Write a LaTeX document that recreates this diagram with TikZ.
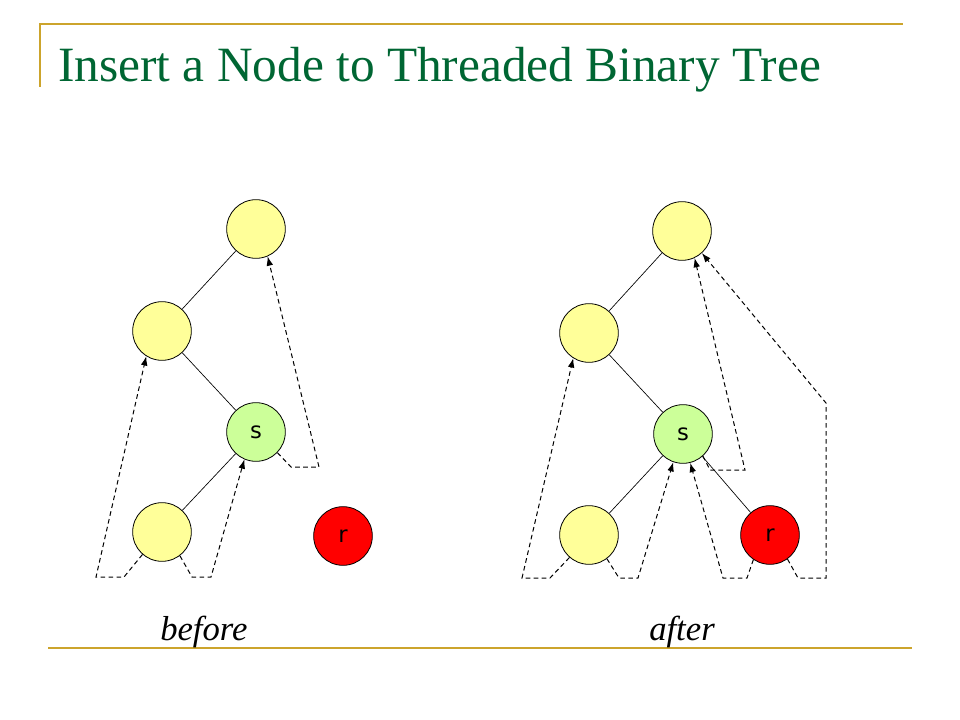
\documentclass[tikz,border=0pt]{standalone}
\usepackage{fontspec}
\setmainfont{Liberation Serif}
\newfontfamily\labelfont{DejaVu Sans}
\usetikzlibrary{arrows.meta}

\definecolor{rulegold}{RGB}{204,164,44}
\definecolor{titlegreen}{RGB}{0,102,51}
\definecolor{nodeyellow}{RGB}{255,255,153}
\definecolor{nodegreen}{RGB}{204,255,153}

\begin{document}
\begin{tikzpicture}[
    x=0.75pt, y=-0.75pt, % one unit = one pixel
    > = {Latex[length=7pt,width=5pt]}, % arrow head style
    treenode/.style={circle, draw, line width=0.6pt, minimum size=44pt, inner sep=0pt, fill=nodeyellow, font=\labelfont\fontsize{17}{17}\selectfont},
    snode/.style={treenode, fill=nodegreen},
    rnode/.style={treenode, fill=red},
    branch/.style={line width=0.5pt},
    thread/.style={dashed, dash pattern=on 3.5pt off 2.5pt, line width=0.75pt, ->},
]
\useasboundingbox (0,0) rectangle (960,720);

% slide frame
\draw[rulegold, line width=1.5pt] (40,87) -- (40,24) -- (903,24);
\draw[rulegold, line width=1.5pt] (48,648) -- (912,648);
\node[anchor=base west, inner sep=0pt, text=titlegreen, font=\fontsize{37}{37}\selectfont] (title) at (58,82) {Insert a Node to Threaded Binary Tree};

% before
\node[treenode] (L1) at (256,229) {};
\node[treenode] (La) at (162,331) {};
\node[snode]    (Ls) at (256,432) {s};
\node[treenode] (Lb) at (162,532) {};
\node[rnode]    (Lr) at (343,536) {r};
\draw[branch] (L1) -- (La);
\draw[branch] (La) -- (Ls);
\draw[branch] (Ls) -- (Lb);
\draw[thread] (Lb.229) -- (124,577) -- (96,577) -- (La.238);
\draw[thread] (Lb.307) -- (192,577) -- (211,577) -- (Ls.247);
\draw[thread] (Ls.316) -- (291,467) -- (319,467) -- (L1.293);

% after
\node[treenode] (R1) at (682,231) {};
\node[treenode] (Ra) at (589,333) {};
\node[snode]    (Rs) at (683,434) {s};
\node[treenode] (Rb) at (589,535) {};
\node[rnode]    (Rr) at (770,535) {r};
\draw[branch] (R1) -- (Ra);
\draw[branch] (Ra) -- (Rs);
\draw[branch] (Rs) -- (Rb);
\draw[branch] (Rs) -- (Rr);
\draw[thread] (Rb.229) -- (550,578) -- (522,578) -- (Ra.238);
\draw[thread] (Rb.307) -- (619,578) -- (638,578) -- (Rs.251);
\draw[thread] (Rr.236) -- (747,578) -- (723,578) -- (Rs.284);
\draw[thread] (Rs.312) -- (710,470) -- (745,470) -- (R1.295);
\draw[thread] (Rr.306) -- (798,578) -- (826,578) -- (826,403) -- (R1.312);

\node[anchor=base west, inner sep=0pt, font=\itshape\fontsize{26}{26}\selectfont] (before) at (160,640) {before};
\node[anchor=base west, inner sep=0pt, font=\itshape\fontsize{26}{26}\selectfont] (after) at (649,640) {after};
\end{tikzpicture}
\end{document}
